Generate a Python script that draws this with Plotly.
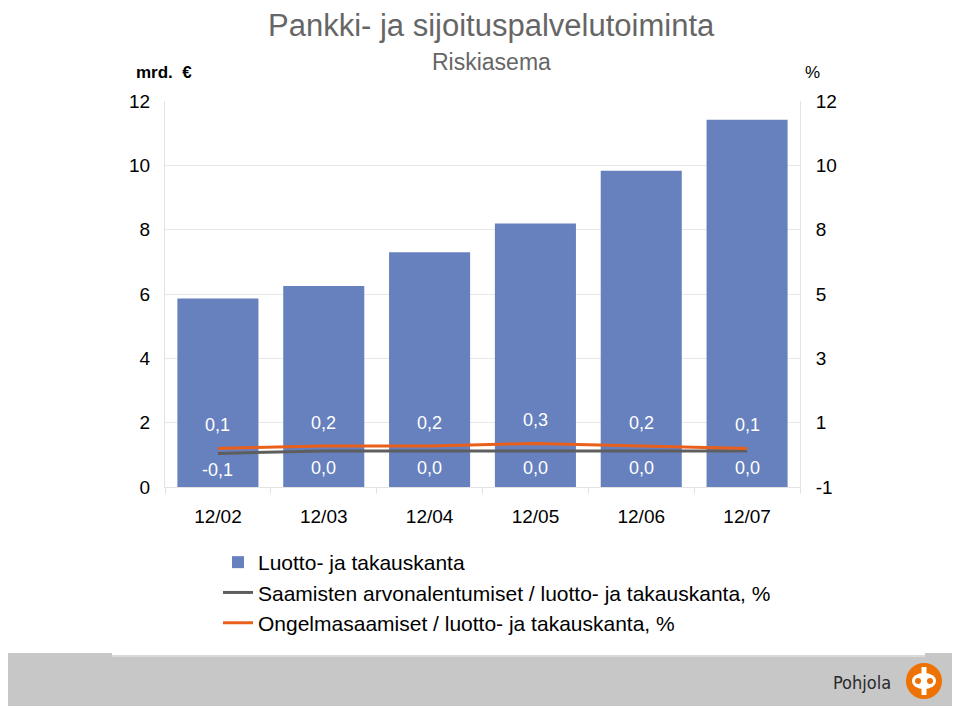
import plotly.graph_objects as go

categories = ["12/02", "12/03", "12/04", "12/05", "12/06", "12/07"]
luotto = [5.86, 6.25, 7.30, 8.19, 9.83, 11.42]
arvonalentumiset = [-0.1, 0.0, 0.0, 0.0, 0.0, 0.0]
ongelmasaamiset = [0.1, 0.2, 0.2, 0.3, 0.2, 0.1]
left_ticks = [0, 2, 4, 6, 8, 10, 12]
right_ticktext = ["-1", "1", "3", "5", "8", "10", "12"]

OFF = 8  # page body margin in the browser
W, H = 960 - OFF, 709 - OFF
# plot area in screen pixels
SL, SR, ST, SB = 165, 800, 101, 487
L, R, T, B = SL - OFF, SR - OFF, ST - OFF, SB - OFF
FONT = "Liberation Sans, Arial, sans-serif"


def px(x):
    return (x - SL) / (SR - SL)


def py(y):
    return (SB - y) / (SB - ST)


def fmt(v):
    return ("%.1f" % v).replace(".", ",")


fig = go.Figure()
fig.add_trace(go.Bar(
    x=categories, y=luotto, name="Luotto- ja takauskanta",
    marker=dict(color="#6780BE", line=dict(width=0)), yaxis="y",
))
fig.add_trace(go.Scatter(
    x=categories, y=arvonalentumiset, name="Saamisten arvonalentumiset / luotto- ja takauskanta, %",
    mode="lines", line=dict(color="#5E5E5E", width=3), yaxis="y3",
))
fig.add_trace(go.Scatter(
    x=categories, y=ongelmasaamiset, name="Ongelmasaamiset / luotto- ja takauskanta, %",
    mode="lines", line=dict(color="#E8601C", width=3), yaxis="y3",
))

ann = []
for c, v in zip(categories, ongelmasaamiset):
    ann.append(dict(x=c, y=v, xref="x", yref="y3", text=fmt(v), showarrow=False,
                    yshift=23, font=dict(color="white", size=18, family=FONT)))
for c, v in zip(categories, arvonalentumiset):
    ann.append(dict(x=c, y=v, xref="x", yref="y3", text=fmt(v), showarrow=False,
                    yshift=-17, font=dict(color="white", size=18, family=FONT)))

ann += [
    dict(x=px(492), y=py(26), xref="paper", yref="paper", text="Pankki- ja sijoituspalvelutoiminta",
         showarrow=False, xanchor="center", yanchor="middle",
         font=dict(size=31, color="#666666", family=FONT)),
    dict(x=px(492), y=py(62), xref="paper", yref="paper", text="Riskiasema",
         showarrow=False, xanchor="center", yanchor="middle",
         font=dict(size=23, color="#666666", family=FONT)),
    dict(x=px(134), y=py(73), xref="paper", yref="paper", text="<b>mrd.  €</b>",
         showarrow=False, xanchor="left", yanchor="middle",
         font=dict(size=17, color="black", family=FONT)),
    dict(x=px(803), y=py(73), xref="paper", yref="paper", text="%",
         showarrow=False, xanchor="left", yanchor="middle",
         font=dict(size=17, color="black", family=FONT)),
    dict(x=px(893), y=py(682), xref="paper", yref="paper", text="Pohjola",
         showarrow=False, xanchor="right", yanchor="middle",
         font=dict(size=18, color="#2a2a2a", family="DejaVu Sans Condensed, DejaVu Sans")),
]

shapes = [
    dict(type="rect", xref="paper", yref="paper", x0=px(0), x1=px(960), y0=py(656), y1=py(706),
         fillcolor="#C7C7C7", line=dict(width=0), layer="below"),
    dict(type="rect", xref="paper", yref="paper", x0=px(0), x1=px(112), y0=py(653), y1=py(656),
         fillcolor="#C7C7C7", line=dict(width=0), layer="below"),
    dict(type="rect", xref="paper", yref="paper", x0=px(925), x1=px(960), y0=py(653), y1=py(656),
         fillcolor="#C7C7C7", line=dict(width=0), layer="below"),
    dict(type="rect", xref="paper", yref="paper", x0=px(112), x1=px(925), y0=py(655), y1=py(657),
         fillcolor="#DADADA", line=dict(width=0), layer="below"),
    # logo
    dict(type="circle", xref="paper", yref="paper", x0=px(906), x1=px(942), y0=py(663), y1=py(699),
         fillcolor="#EE7203", line=dict(width=0)),
    dict(type="circle", xref="paper", yref="paper", x0=px(912), x1=px(936), y0=py(673), y1=py(689),
         fillcolor="white", line=dict(width=0)),
    dict(type="rect", xref="paper", yref="paper", x0=px(921.5), x1=px(926.5), y0=py(667), y1=py(695),
         fillcolor="white", line=dict(width=0)),
    dict(type="circle", xref="paper", yref="paper", x0=px(915), x1=px(921), y0=py(678), y1=py(684),
         fillcolor="#EE7203", line=dict(width=0)),
    dict(type="circle", xref="paper", yref="paper", x0=px(927), x1=px(933), y0=py(678), y1=py(684),
         fillcolor="#EE7203", line=dict(width=0)),
]

right_tickvals = [-1 + i * 13 / 6 for i in range(len(right_ticktext))]

fig.update_layout(
    width=W, height=H,
    margin=dict(l=L, r=W - R, t=T, b=H - B, pad=0),
    paper_bgcolor="white", plot_bgcolor="white",
    font=dict(family=FONT, size=19, color="black"),
    bargap=0.234,
    showlegend=True,
    legend=dict(x=px(218), y=py(542), xanchor="left", yanchor="top",
                font=dict(size=21, family=FONT, color="black"),
                itemwidth=30, tracegroupgap=0, bgcolor="rgba(0,0,0,0)",
                traceorder="normal"),
    xaxis=dict(showgrid=False, showline=True, linecolor="#E3E3E3", linewidth=1,
               ticks="outside", tickson="boundaries", ticklen=6, tickcolor="#E3E3E3",
               ticklabelstandoff=12, tickfont=dict(size=19)),
    yaxis=dict(range=[0, 12], tickvals=left_ticks, showgrid=True, gridcolor="#E8E8E8",
               showline=True, linecolor="#E3E3E3", zeroline=False,
               ticklabelstandoff=10, tickfont=dict(size=19)),
    yaxis2=dict(range=[-1, 12], tickvals=right_tickvals, ticktext=right_ticktext,
                overlaying="y", side="right", showgrid=False, showline=True,
                linecolor="#E3E3E3", zeroline=False, ticklabelstandoff=11,
                tickfont=dict(size=19)),
    yaxis3=dict(range=[-1.44, 13.98], overlaying="y", visible=False),
    annotations=ann,
    shapes=shapes,
)

# empty trace to activate the right axis
fig.add_trace(go.Scatter(x=categories, y=[None] * len(categories), yaxis="y2",
                         showlegend=False, hoverinfo="skip"))

fig.write_html("out.html")
